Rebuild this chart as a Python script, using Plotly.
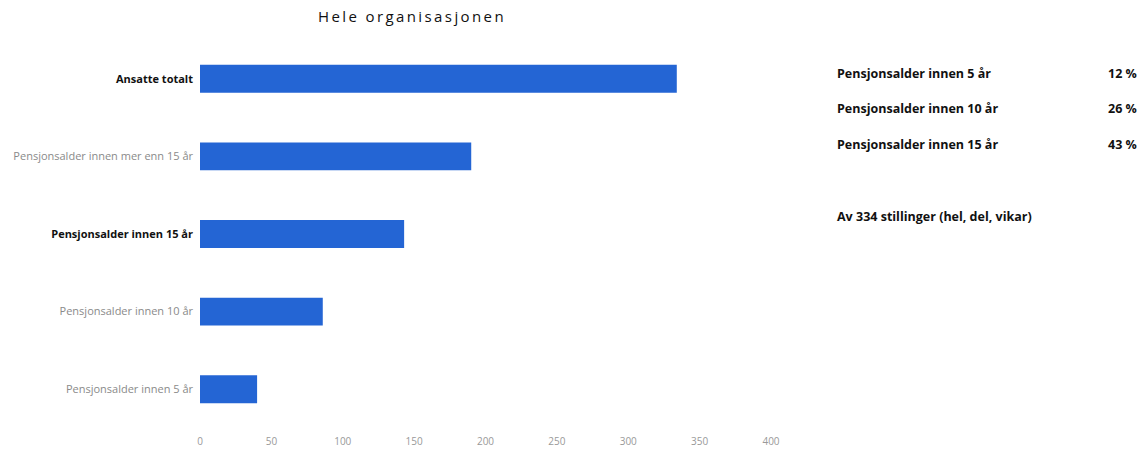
import plotly.graph_objects as go

categories = [
    "Pensjonsalder innen 5 år",
    "Pensjonsalder innen 10 år",
    "Pensjonsalder innen 15 år",
    "Pensjonsalder innen mer enn 15 år",
    "Ansatte totalt",
]
values = [40, 86, 143, 190, 334]
label_bold = [False, False, True, False, True]
label_color = ["#8a8a8a", "#8a8a8a", "#111111", "#8a8a8a", "#111111"]

summary_labels = ["Pensjonsalder innen 5 år", "Pensjonsalder innen 10 år", "Pensjonsalder innen 15 år"]
summary_values = ["12 %", "26 %", "43 %"]
footnote = "Av 334 stillinger (hel, del, vikar)"
title_text = "Hele organisasjonen"

x_ticks = [0, 50, 100, 150, 200, 250, 300, 350, 400]

ticktext = []
for c, b, col in zip(categories, label_bold, label_color):
    t = f"<b>{c}</b>" if b else c
    ticktext.append(f"<span style='color:{col}'>{t}</span>")

PL, PR, PT, PB = 200, 771, 40, 428
W, H = 1141, 450

fig = go.Figure(go.Bar(
    x=values, y=categories, orientation="h",
    marker=dict(color="#2465d4", line=dict(width=0)),
    width=0.36,
))

fig.update_layout(
    width=W, height=H,
    margin=dict(l=PL, r=W - PR, t=PT, b=H - PB, autoexpand=False),
    paper_bgcolor="white", plot_bgcolor="white",
    font=dict(family="Open Sans, sans-serif", size=11, color="#333"),
    title=dict(text=f"<span style='letter-spacing:2.4px'>{title_text}</span>",
               x=412 / W, xanchor="center", y=1 - 17 / H, yanchor="middle",
               automargin=False,
               font=dict(size=15, color="#111", weight=500)),
    showlegend=False,
)
fig.update_xaxes(range=[0, 400], tickvals=x_ticks, showgrid=False, zeroline=False,
                 showline=False, ticks="", automargin=False, ticklabelstandoff=6,
                 tickfont=dict(size=10, color="#999"))
fig.update_yaxes(tickvals=categories, ticktext=ticktext, showgrid=False,
                 ticks="", automargin=False, ticklabelstandoff=6,
                 tickfont=dict(size=11))

def py(yy):
    return (PB - yy) / (PB - PT)

def px(xx):
    return (xx - PL) / (PR - PL)

row_y = [73, 108, 144]
for lab, val, yy in zip(summary_labels, summary_values, row_y):
    fig.add_annotation(text=f"<b>{lab}</b>", xref="paper", yref="paper",
                       x=px(835), y=py(yy), xanchor="left", yanchor="middle",
                       showarrow=False, font=dict(size=12.5, color="#111"))
    fig.add_annotation(text=f"<b>{val}</b>", xref="paper", yref="paper",
                       x=px(1139), y=py(yy), xanchor="right", yanchor="middle",
                       showarrow=False, font=dict(size=12.5, color="#111"))
fig.add_annotation(text=f"<b>{footnote}</b>", xref="paper", yref="paper",
                   x=px(835), y=py(216), xanchor="left", yanchor="middle",
                   showarrow=False, font=dict(size=12.5, color="#111"))

fig.write_html("out.html")
